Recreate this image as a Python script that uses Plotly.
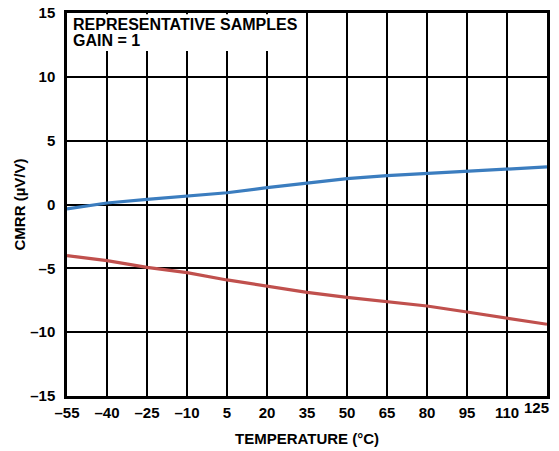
import plotly.graph_objects as go

# temperatura en grados C
temperature = [-55, -40, -25, -10, 5, 20, 35, 50, 65, 80, 95, 110, 125]
# muestras representativas de CMRR (uV/V)
cmrr_blue = [-0.35, 0.12, 0.4, 0.67, 0.92, 1.32, 1.7, 2.02, 2.26, 2.44, 2.6, 2.76, 2.94]
cmrr_red = [-4.01, -4.4, -4.92, -5.34, -5.91, -6.41, -6.88, -7.27, -7.61, -7.95, -8.42, -8.89, -9.38]

x_ticks = [-55, -40, -25, -10, 5, 20, 35, 50, 65, 80, 95, 110, 125]
y_ticks = [-15, -10, -5, 0, 5, 10, 15]

FONT = "Liberation Sans"


def label(v):
    return str(v).replace("-", "\u2013")


fig = go.Figure()

fig.add_trace(go.Scatter(x=temperature, y=cmrr_blue, mode="lines",
                         line=dict(color="#3B7DBF", width=3.2)))
fig.add_trace(go.Scatter(x=temperature, y=cmrr_red, mode="lines",
                         line=dict(color="#C0504D", width=3.2)))

# fondo blanco detras del texto
fig.add_shape(type="rect", xref="x", yref="y", x0=-54.6, x1=33.5, y0=12.02, y1=14.9,
              fillcolor="white", line=dict(width=0), layer="above")

bold = dict(family=FONT, size=16, color="black", weight="bold")
fig.add_annotation(xref="x", yref="y", x=-53.4, y=14.1, xanchor="left", yanchor="middle",
                   showarrow=False, text="REPRESENTATIVE SAMPLES", font=bold)
fig.add_annotation(xref="x", yref="y", x=-53.4, y=12.88, xanchor="left", yanchor="middle",
                   showarrow=False, text="GAIN = 1", font=bold)

# la ultima etiqueta del eje x se corta en el borde, se pone aparte
x_text = [label(v) for v in x_ticks]
last_label = x_text[-1]
x_text[-1] = ""
fig.add_annotation(xref="paper", yref="y", x=1.008, y=-15, xanchor="right", yanchor="top",
                   yshift=-1, showarrow=False, text=last_label,
                   font=dict(family=FONT, size=15, color="black", weight="bold"))

# titulos de los ejes
fig.add_annotation(xref="paper", yref="paper", x=0.5, y=-0.11, xanchor="center", yanchor="middle",
                   showarrow=False, text="TEMPERATURE (°C)",
                   font=dict(family=FONT, size=15, color="black", weight="bold"))
fig.add_annotation(xref="paper", yref="paper", x=-0.098, y=0.5, xanchor="center", yanchor="middle",
                   showarrow=False, text="CMRR (µV/V)", textangle=-90,
                   font=dict(family=FONT, size=15, color="black", weight="bold"))

# la pagina tiene un margen de 8px, por eso la figura es algo mas pequeña
fig.update_layout(
    width=551, height=443,
    margin=dict(l=59, r=12, t=5, b=55),
    paper_bgcolor="white", plot_bgcolor="white",
    showlegend=False,
    font=dict(family=FONT, size=15, color="black", weight="bold"),
    xaxis=dict(
        range=[-55, 125], tickvals=x_ticks, ticktext=x_text,
        showgrid=True, gridcolor="black", gridwidth=1.5,
        showline=True, linecolor="black", linewidth=2.5, mirror=True,
        zeroline=False, ticks="", ticklabelstandoff=1, automargin=False,
        ticklabeloverflow="allow", tickfont=dict(size=15),
    ),
    yaxis=dict(
        range=[-15, 15], tickvals=y_ticks, ticktext=[label(v) for v in y_ticks],
        showgrid=True, gridcolor="black", gridwidth=1.5,
        showline=True, linecolor="black", linewidth=2.5, mirror=True,
        zeroline=False, ticks="", ticklabelstandoff=6, automargin=False,
        ticklabeloverflow="allow", tickfont=dict(size=15),
    ),
)

fig.write_html("out.html")
